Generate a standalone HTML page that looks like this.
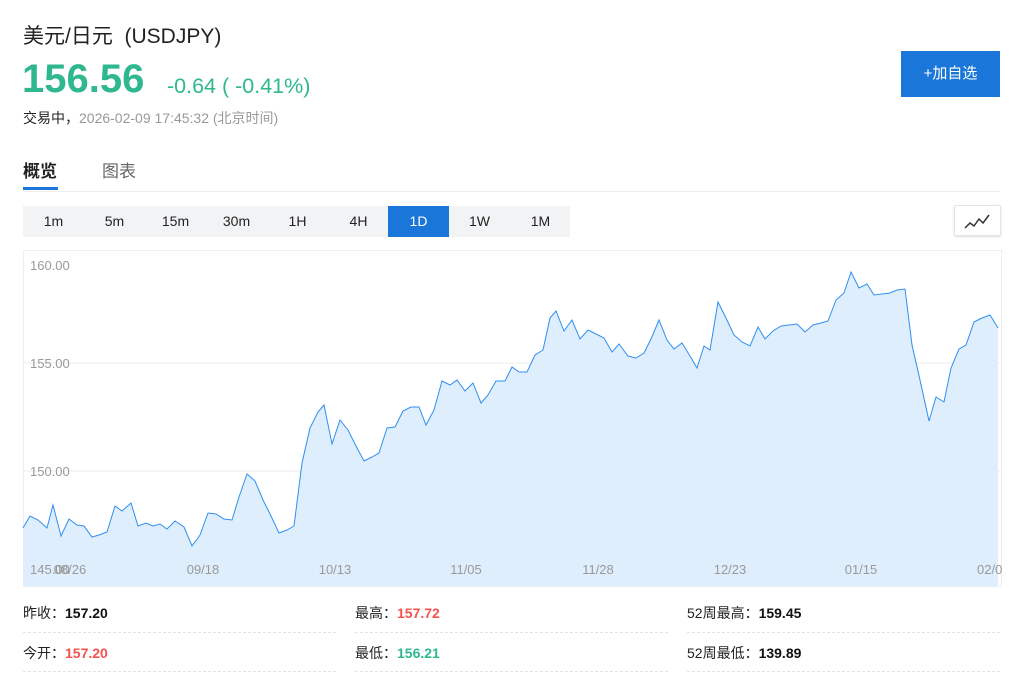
<!DOCTYPE html>
<html><head><meta charset="utf-8"><style>
body{margin:0;width:1024px;height:687px;background:#fff;position:relative;overflow:hidden;font-family:"Liberation Sans","Noto Sans CJK SC",sans-serif;}
.a{position:absolute;white-space:nowrap;}
.tf{position:absolute;top:206px;height:31px;line-height:31px;width:61px;text-align:center;font-size:14px;color:#222;}
.lab{font-size:14px;color:#222;}
.dash{position:absolute;height:0;border-top:1px dashed #e3e3e3;width:313px;}
</style></head><body>
<div class="a" style="left:23px;top:20px;font-size:21px;color:#222;">美元/日元&nbsp; (USDJPY)</div>
<div class="a" style="left:22px;top:57px;font-size:40px;font-weight:bold;color:#2fb890;">156.56</div>
<div class="a" style="left:167px;top:74px;font-size:21.5px;color:#2fb890;">-0.64 ( -0.41%)</div>
<div class="a" style="left:23px;top:108px;font-size:14px;color:#222;font-weight:normal">交易中，<span style="color:#999">2026-02-09 17:45:32 (北京时间)</span></div>
<div class="a" style="left:901px;top:51px;width:99px;height:46px;background:#1a77d9;color:#fff;font-size:15px;line-height:46px;text-align:center;">+加自选</div>
<div class="a" style="left:23px;top:157px;font-size:17px;font-weight:bold;color:#222;">概览</div>
<div class="a" style="left:102px;top:157px;font-size:17px;color:#666;">图表</div>
<div class="a" style="left:23px;top:187px;width:35px;height:3px;background:#1a77d9;"></div>
<div class="a" style="left:23px;top:191px;width:977px;height:1px;background:#eee;"></div>
<div class="a" style="left:23px;top:206px;width:547px;height:31px;background:#f2f3f5;"></div>
<div class="tf" style="left:23px">1m</div><div class="tf" style="left:84px">5m</div><div class="tf" style="left:145px">15m</div><div class="tf" style="left:206px">30m</div><div class="tf" style="left:267px">1H</div><div class="tf" style="left:328px">4H</div><div class="tf" style="left:388px;background:#1a77d9;color:#fff">1D</div><div class="tf" style="left:449px">1W</div><div class="tf" style="left:510px">1M</div>
<div class="a" style="left:954px;top:205px;width:45px;height:29px;border:1px solid #e5e5e5;border-radius:2px;box-shadow:0 1px 2px #ddd;">
<svg width="45" height="29"><polyline points="10,22 15,17 19,20 24,13 28,17 34,9" fill="none" stroke="#333" stroke-width="1.5"/></svg></div>
<svg class="a" style="left:0;top:0" width="1024" height="600">
<rect x="23.5" y="250.5" width="978" height="336" fill="none" stroke="#eee"/>
<line x1="24" y1="363" x2="1001" y2="363" stroke="#eee"/>
<line x1="24" y1="471" x2="1001" y2="471" stroke="#eee"/>
<polygon fill="#dfeefd" points="23,586 23,528 30,516 38,520 47,528 53,505 61,536 69,519 77,525 84,526 92,537 99,535 107,532 115,506 122,511 131,503 138,526 146,523 153,526 160,524 167,529 175,521 184,527 192,546 200,535 208,513 216,514 224,519 232,520 239,497 247,474 255,481 263,500 271,516 279,533 287,530 294,526 302,463 310,428 318,412 324,405 332,444 340,420 348,430 356,446 364,461 372,457 379,453 387,428 395,427 403,411 411,407 419,407 426,425 434,410 442,381 450,385 457,380 465,391 473,383 481,403 488,395 496,381 505,381 512,367 519,372 527,372 535,355 543,350 550,318 556,311 564,331 572,320 580,339 588,330 596,334 604,338 612,352 619,344 628,356 636,358 644,353 651,339 659,320 667,340 674,349 682,343 690,356 697,368 704,346 710,350 718,302 726,318 734,335 742,342 750,346 758,327 765,339 773,331 781,326 789,325 797,324 805,332 813,325 821,323 828,321 836,300 844,293 851,272 859,288 867,284 874,295 882,294 890,293 897,290 905,289 912,345 920,380 929,421 936,397 944,402 951,368 959,349 966,345 974,322 982,318 990,315 998,328 998,586"/>
<polyline fill="none" stroke="#2f8ff0" stroke-width="1" points="23,528 30,516 38,520 47,528 53,505 61,536 69,519 77,525 84,526 92,537 99,535 107,532 115,506 122,511 131,503 138,526 146,523 153,526 160,524 167,529 175,521 184,527 192,546 200,535 208,513 216,514 224,519 232,520 239,497 247,474 255,481 263,500 271,516 279,533 287,530 294,526 302,463 310,428 318,412 324,405 332,444 340,420 348,430 356,446 364,461 372,457 379,453 387,428 395,427 403,411 411,407 419,407 426,425 434,410 442,381 450,385 457,380 465,391 473,383 481,403 488,395 496,381 505,381 512,367 519,372 527,372 535,355 543,350 550,318 556,311 564,331 572,320 580,339 588,330 596,334 604,338 612,352 619,344 628,356 636,358 644,353 651,339 659,320 667,340 674,349 682,343 690,356 697,368 704,346 710,350 718,302 726,318 734,335 742,342 750,346 758,327 765,339 773,331 781,326 789,325 797,324 805,332 813,325 821,323 828,321 836,300 844,293 851,272 859,288 867,284 874,295 882,294 890,293 897,290 905,289 912,345 920,380 929,421 936,397 944,402 951,368 959,349 966,345 974,322 982,318 990,315 998,328"/>
<g font-family="Liberation Sans,sans-serif" font-size="13" fill="#999">
<text x="30" y="270">160.00</text><text x="30" y="368">155.00</text><text x="30" y="476">150.00</text><text x="30" y="574">145.00</text>
<g text-anchor="middle"><text x="70" y="574">08/26</text><text x="203" y="574">09/18</text><text x="335" y="574">10/13</text><text x="466" y="574">11/05</text><text x="598" y="574">11/28</text><text x="730" y="574">12/23</text><text x="861" y="574">01/15</text></g>
<text x="977" y="574">02/0</text></g>
</svg>
<div class="a lab" style="left:23px;top:603px;">昨收：<b style="color:#111">157.20</b></div>
<div class="a lab" style="left:355px;top:603px;">最高：<b style="color:#f5534f">157.72</b></div>
<div class="a lab" style="left:687px;top:603px;">52周最高：<b style="color:#111">159.45</b></div>
<div class="a lab" style="left:23px;top:643px;">今开：<b style="color:#f5534f">157.20</b></div>
<div class="a lab" style="left:355px;top:643px;">最低：<b style="color:#2fb890">156.21</b></div>
<div class="a lab" style="left:687px;top:643px;">52周最低：<b style="color:#111">139.89</b></div>
<div class="dash" style="left:23px;top:632px"></div><div class="dash" style="left:355px;top:632px"></div><div class="dash" style="left:687px;top:632px"></div>
<div class="dash" style="left:23px;top:671px"></div><div class="dash" style="left:355px;top:671px"></div><div class="dash" style="left:687px;top:671px"></div>
</body></html>
